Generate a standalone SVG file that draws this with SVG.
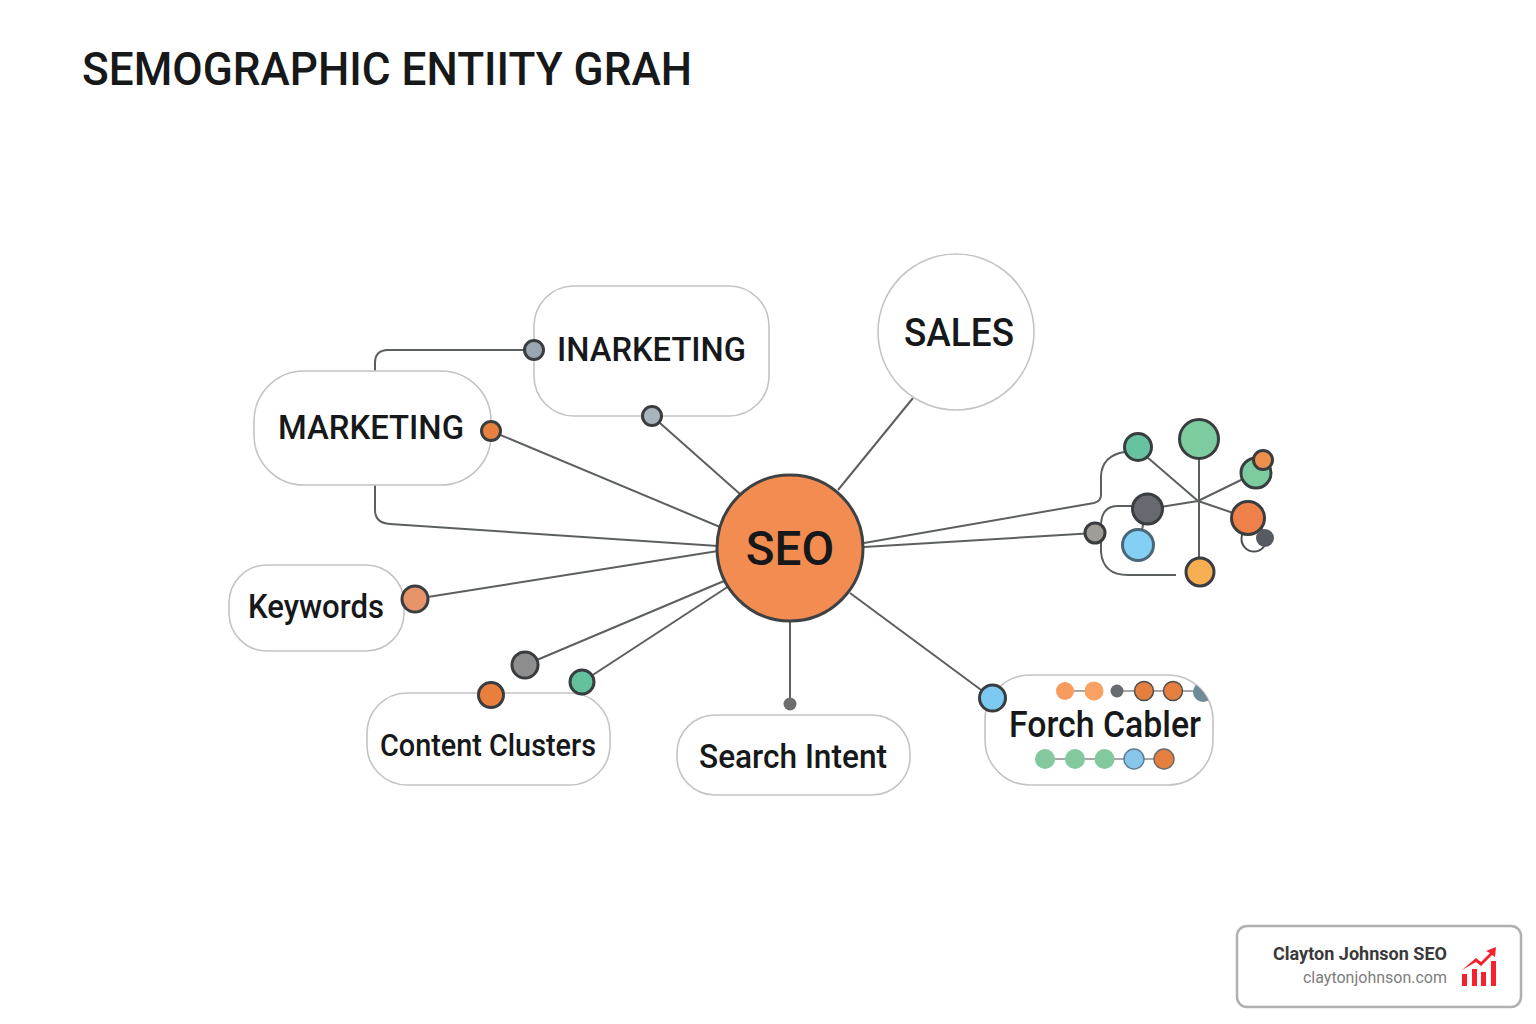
<svg xmlns="http://www.w3.org/2000/svg" width="1536" height="1024" viewBox="0 0 1536 1024">
<style>
text{font-family:Roboto,"Liberation Sans",sans-serif;fill:#16181a;font-weight:500}
.box{fill:#fff;stroke:#c4c4c4;stroke-width:1.6}
.c{fill:none;stroke:#5c5f60;stroke-width:2}
.d{stroke:#3a3d3f;stroke-width:3}
.s{fill:none;stroke:#a8a8a8;stroke-width:1.8}
</style>
<defs><clipPath id="forch-clip"><rect x="985" y="675" width="228" height="110" rx="45"/></clipPath></defs>
<rect width="1536" height="1024" fill="#fff"/>
<text id="title" x="82" y="85" font-size="45.5" textLength="610" lengthAdjust="spacingAndGlyphs">SEMOGRAPHIC ENTIITY GRAH</text>
<g id="connectors">
<path class="c" d="M534 350H388Q375 350 375 363V372"/>
<path class="c" d="M375 485V510Q375 523 390 524L718 546"/>
<path class="c" d="M491 431L720 527"/>
<path class="c" d="M652 416L740 494"/>
<path class="c" d="M913 398L838 490"/>
<path class="c" d="M415 599L718 551"/>
<path class="c" d="M525 665L724 581"/>
<path class="c" d="M582 682L729 586"/>
<path class="c" d="M790 620V704"/>
<path class="c" d="M850 593L992 698"/>
<path class="c" d="M864 543L1094 503Q1101 501 1101 495V476Q1102 456 1124 452"/>
<path class="c" d="M864 547L1095 533"/>
<path class="c" d="M1132 506H1118Q1101 506 1101 526V552Q1103 575 1128 575H1176"/>
<path class="c" d="M1147 457L1198 501M1199 440V572M1198 501L1243 479M1198 501L1248 518M1198 501L1148 509M1145 515L1141 535"/>
</g>
<g id="node-inarketing"><rect class="box" x="534" y="286" width="235" height="130" rx="40"/><text x="557" y="361" font-size="33.5" textLength="189" lengthAdjust="spacingAndGlyphs">INARKETING</text><circle class="d" cx="534" cy="350" r="9.5" fill="#9aa6b2"/><circle class="d" cx="652" cy="416" r="9.5" fill="#aab4bc"/></g>
<g id="node-sales"><circle class="box" cx="956" cy="332" r="78"/><text x="904" y="346" font-size="38.5" textLength="110" lengthAdjust="spacingAndGlyphs">SALES</text></g>
<g id="node-marketing"><rect class="box" x="254" y="371" width="237" height="114" rx="50"/><text x="278" y="439" font-size="33.5" textLength="186" lengthAdjust="spacingAndGlyphs">MARKETING</text><circle class="d" cx="491" cy="431" r="9.5" fill="#e8803f"/></g>
<g id="node-keywords"><rect class="box" x="229" y="565" width="175" height="86" rx="38"/><text x="248" y="618" font-size="32.5" textLength="136" lengthAdjust="spacingAndGlyphs">Keywords</text><circle class="d" cx="415" cy="599" r="13" fill="#e8946a" stroke="#6e6e6e"/></g>
<g id="node-content"><rect class="box" x="367" y="693" width="243" height="92" rx="40"/><text x="380" y="756" font-size="31" textLength="216" lengthAdjust="spacingAndGlyphs">Content Clusters</text><circle class="d" cx="525" cy="665" r="13" fill="#8e8e8e"/><circle class="d" cx="491" cy="695" r="12.5" fill="#ea7e3c"/><circle class="d" cx="582" cy="682" r="12" fill="#62c29c"/></g>
<g id="node-search"><rect class="box" x="677" y="715" width="233" height="80" rx="38"/><text x="699" y="768" font-size="33" textLength="188" lengthAdjust="spacingAndGlyphs">Search Intent</text><circle cx="790" cy="704" r="6.5" fill="#6e6e6e"/></g>
<g id="node-forch"><rect class="box" x="985" y="675" width="228" height="110" rx="45"/>
<path class="s" d="M1065 691H1094M1117 691H1196M1045 759H1165"/>
<circle cx="1065" cy="691" r="9" fill="#f79b5e"/><circle cx="1094" cy="691" r="9.5" fill="#f9a063"/><circle cx="1117" cy="691" r="6.5" fill="#686c70"/><circle cx="1144" cy="691" r="9.5" fill="#e57f3f" stroke="#4d4d4d" stroke-width="1.5"/><circle cx="1173" cy="691" r="9.5" fill="#e57f3f" stroke="#4d4d4d" stroke-width="1.5"/>
<circle cx="1203" cy="692" r="10" fill="#6e8b98" clip-path="url(#forch-clip)"/>
<text x="1009" y="737" font-size="36" textLength="192" lengthAdjust="spacingAndGlyphs">Forch Cabler</text>
<circle cx="1045" cy="759" r="10" fill="#84c99e"/><circle cx="1075" cy="759" r="10" fill="#84c99e"/><circle cx="1104.5" cy="759" r="10" fill="#84c99e"/><circle cx="1134" cy="759" r="10" fill="#88c6ec" stroke="#5e7e92" stroke-width="1.5"/><circle cx="1164" cy="759" r="10" fill="#e57f3f" stroke="#6b6b6b" stroke-width="1.5"/>
<circle class="d" cx="992.5" cy="698" r="13" fill="#7ccaf2"/></g>
<g id="node-seo"><circle cx="790" cy="548" r="73" fill="#f28c50" stroke="#3f4244" stroke-width="3"/><text x="790" y="565" font-size="47.5" text-anchor="middle">SEO</text></g>
<g id="node-cluster">
<circle class="d" cx="1138" cy="447" r="13.5" fill="#66c2a0"/>
<circle class="d" cx="1199" cy="439" r="19.5" fill="#7ccca0"/>
<circle class="d" cx="1256" cy="473" r="15" fill="#7ccca0"/>
<circle class="d" cx="1263" cy="460" r="9.5" fill="#ee8f4e"/>
<circle cx="1254" cy="539" r="12.5" fill="#fff" stroke="#4b4e50" stroke-width="2"/>
<circle class="d" cx="1248" cy="518" r="16.5" fill="#f0804a"/>
<circle cx="1265" cy="538" r="9" fill="#565b62"/>
<circle class="d" cx="1147.5" cy="509" r="15" fill="#666a70"/>
<circle class="d" cx="1138" cy="545" r="15.5" fill="#84d0f5" style="stroke:#4b6676"/>
<circle class="d" cx="1095" cy="533" r="10" fill="#a09c98"/>
<circle class="d" cx="1200" cy="572" r="14" fill="#f5ae52"/>
</g>
<g id="badge">
<rect x="1237" y="926" width="284" height="81" rx="10" fill="#fff" stroke="#b0b0b0" stroke-width="2.5"/>
<text x="1273" y="960" font-size="17.5" textLength="174" lengthAdjust="spacingAndGlyphs" style="fill:#3a3a3a;font-weight:700">Clayton Johnson SEO</text>
<text x="1447" y="983" font-size="16" text-anchor="end" style="fill:#7d7d7d;font-weight:400">claytonjohnson.com</text>
<path fill="#f5222d" d="M1462 974h5v12h-5zM1472 969h5v17h-5zM1481 972h5v14h-5zM1491 961h5v25h-5zM1462 970L1476 958L1481 962L1490 953L1486 951L1496 947L1495 957L1492 955L1481 966L1476 962Z"/>
</g>
</svg>
